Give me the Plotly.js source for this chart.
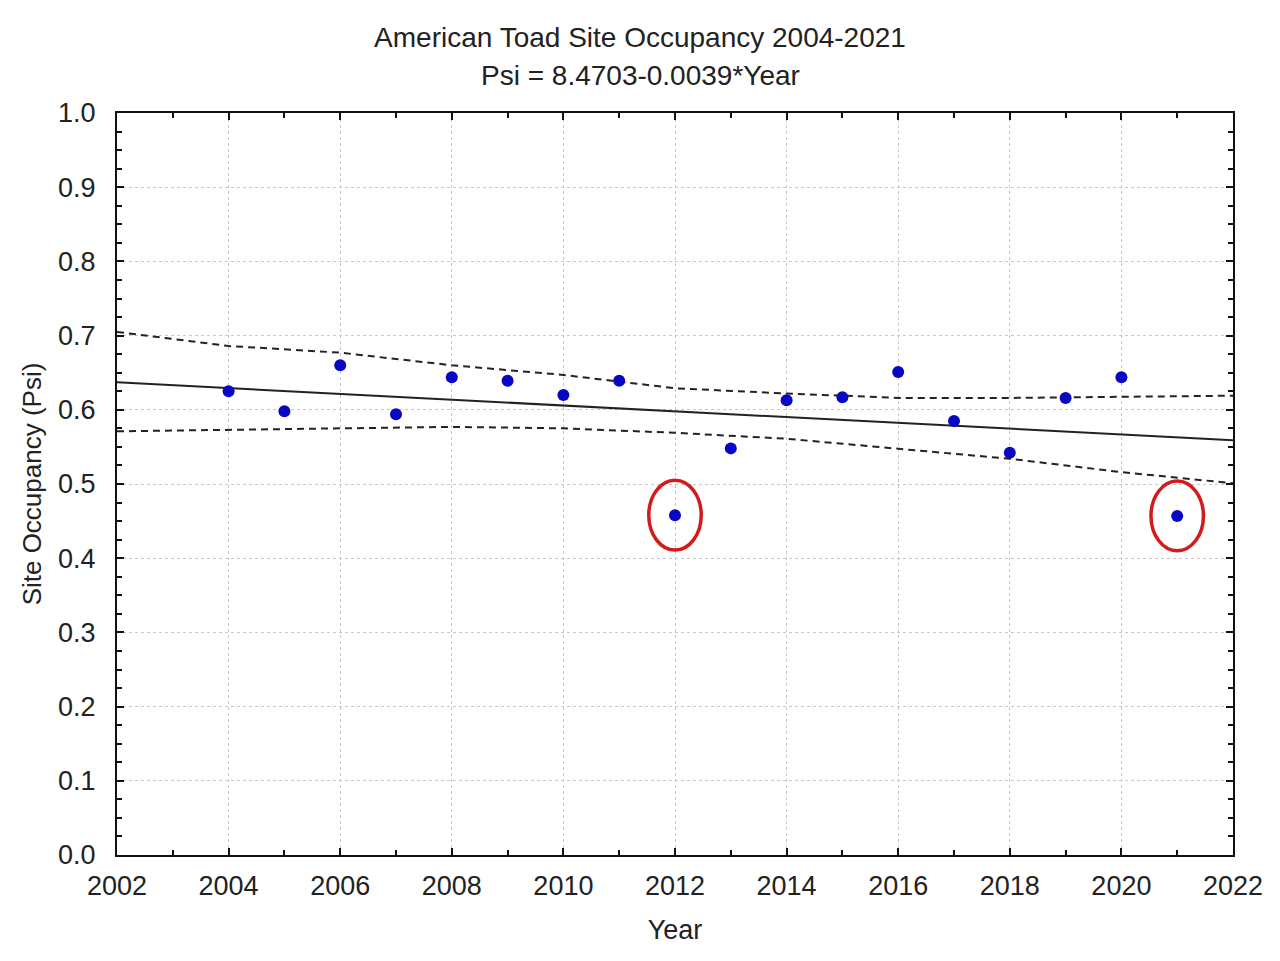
<!DOCTYPE html>
<html>
<head>
<meta charset="utf-8">
<script src="https://cdn.plot.ly/plotly-3.0.1.min.js"></script>
<style>html,body{margin:0;padding:0;background:#fff;}#chart{width:1280px;height:961px;}</style>
</head>
<body>
<div id="chart"></div>
<script>
// Observed site occupancy
const years = [2004, 2005, 2006, 2007, 2008, 2009, 2010, 2011, 2012, 2013, 2014, 2015, 2016, 2017, 2018, 2019, 2020, 2021];
const psi = [0.625, 0.598, 0.660, 0.594, 0.644, 0.639, 0.620, 0.639, 0.458, 0.548, 0.613, 0.617, 0.651, 0.585, 0.542, 0.616, 0.644, 0.457];

// Fitted regression line (endpoints)
const fitYears = [2002, 2022];
const fitPsi = [0.637, 0.559];

// Confidence bands
const bandYears = [2002, 2004, 2006, 2008, 2010, 2012, 2014, 2016, 2018, 2020, 2022];
const upperBand = [0.705, 0.686, 0.677, 0.660, 0.647, 0.629, 0.622, 0.616, 0.616, 0.617, 0.619];
const lowerBand = [0.571, 0.573, 0.575, 0.577, 0.575, 0.569, 0.561, 0.547, 0.534, 0.516, 0.501];

// Highlighted outlier years
const highlightYears = [2012, 2021];

const titleLines = ['American Toad Site Occupancy 2004-2021', 'Psi = 8.4703-0.0039*Year'];
const xTickVals = [2002, 2004, 2006, 2008, 2010, 2012, 2014, 2016, 2018, 2020, 2022];
const yTickVals = [0, 0.1, 0.2, 0.3, 0.4, 0.5, 0.6, 0.7, 0.8, 0.9, 1.0];
const yTickText = ['0.0', '0.1', '0.2', '0.3', '0.4', '0.5', '0.6', '0.7', '0.8', '0.9', '1.0'];

const FONT = 'Liberation Sans, Arial, sans-serif';
const TXT = '#222';
const H = 961;

const traces = [
  {x: bandYears, y: upperBand, mode: 'lines', line: {color: '#222', width: 2, dash: '7px,5px'}, hoverinfo: 'skip'},
  {x: bandYears, y: lowerBand, mode: 'lines', line: {color: '#222', width: 2, dash: '7px,5px'}, hoverinfo: 'skip'},
  {x: fitYears, y: fitPsi, mode: 'lines', line: {color: '#222', width: 2}},
  {x: years, y: psi, mode: 'markers', marker: {color: '#0808c4', size: 12, symbol: 'circle'}}
];

const shapes = highlightYears.map(yr => {
  const v = psi[years.indexOf(yr)];
  return {type: 'circle', xref: 'x', yref: 'y', x0: yr - 0.47, x1: yr + 0.47, y0: v - 0.047, y1: v + 0.047,
          line: {color: '#d41a1a', width: 3.5}};
});

const axisCommon = {
  showline: true, linecolor: '#111', linewidth: 2, mirror: 'ticks',
  ticks: 'inside', ticklen: 7, tickwidth: 2, tickcolor: '#111',
  showgrid: true, gridcolor: '#c8c8c8', griddash: 'dot', gridwidth: 1,
  zeroline: false, fixedrange: true,
  tickfont: {family: FONT, size: 27, color: TXT}
};

const layout = {
  width: 1280, height: 961,
  margin: {l: 117, r: 47, t: 113, b: 106},
  paper_bgcolor: '#fff', plot_bgcolor: '#fff',
  showlegend: false,
  title: {
    text: titleLines[0],
    font: {family: FONT, size: 28, color: TXT},
    x: 0.5, xref: 'container', xanchor: 'center',
    y: 1 - 37/H, yref: 'container', yanchor: 'middle'
  },
  annotations: [{
    text: titleLines[1], xref: 'paper', yref: 'paper',
    x: (640 - 117) / (1280 - 117 - 47), xanchor: 'center',
    y: 1 + (113 - 76) / (H - 113 - 106), yanchor: 'middle', showarrow: false,
    font: {family: FONT, size: 28, color: TXT}
  }],
  xaxis: Object.assign({}, axisCommon, {
    range: [2002, 2022], tickvals: xTickVals, ticktext: xTickVals.map(String),
    ticklabelstandoff: 6,
    minor: {dtick: 1, tick0: 2003, ticks: 'inside', ticklen: 5, tickwidth: 2, tickcolor: '#111', showgrid: false},
    title: {text: 'Year', font: {family: FONT, size: 27, color: TXT}, standoff: 20}
  }),
  yaxis: Object.assign({}, axisCommon, {
    range: [0, 1.0], tickvals: yTickVals, ticktext: yTickText,
    ticklabelstandoff: 14,
    minor: {dtick: 0.025, tick0: 0, ticks: 'inside', ticklen: 5, tickwidth: 2, tickcolor: '#111', showgrid: false},
    title: {text: 'Site Occupancy (Psi)', font: {family: FONT, size: 26, color: TXT}, standoff: 9}
  }),
  shapes: shapes
};

Plotly.newPlot('chart', traces, layout, {displayModeBar: false, staticPlot: true});
</script>
</body>
</html>
